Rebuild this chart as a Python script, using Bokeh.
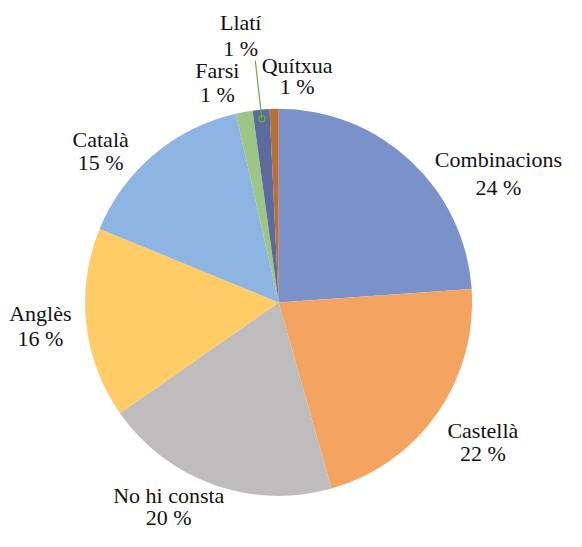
import math
from bokeh.plotting import figure
from bokeh.models import ColumnDataSource
from bokeh.core.properties import value
from bokeh.embed import file_html
from bokeh.resources import INLINE

# ---- data ----
categories = ["Combinacions", "Castellà", "No hi consta", "Anglès", "Català", "Farsi", "Llatí", "Quítxua"]
shares = [23.9, 21.7, 19.7, 15.9, 15.25, 1.4, 1.4, 0.75]
pct_labels = ["24 %", "22 %", "20 %", "16 %", "15 %", "1 %", "1 %", "1 %"]

# ---- styles / layout ----
colors = ["#7A91CA", "#F4A460", "#BEBCBC", "#FFCC66", "#8EB4E3", "#9DC585", "#5B6B9B", "#B8703A"]
R = 199
# label line centres relative to pie centre: (x, y_name, y_pct)
label_layout = [
    (226, 147, 118),
    (210, -132, -156),
    (-113, -199, -222),
    (-245, -11, -37),
    (-183, 168, 144),
    (-63, 239, 214),
    (-39, 288, 262),
    (19, 244, 222),
]
FONT = "Liberation Serif"
FS = "22px"

total = sum(shares)
starts, ends = [], []
cum = 0.0
for s in shares:
    a0 = math.pi / 2 - 2 * math.pi * (cum + s) / total
    a1 = math.pi / 2 - 2 * math.pi * cum / total
    starts.append(a0)
    ends.append(a1)
    cum += s

src = ColumnDataSource(dict(cat=categories, start=starts, end=ends, color=colors,
                            x=[0] * len(shares), y=[0] * len(shares)))

p = figure(width=566, height=531, x_range=(-286, 296), y_range=(-236, 311),
           output_backend="svg", toolbar_location=None, min_border=0)
p.axis.visible = False
p.grid.visible = False
p.outline_line_color = None
p.background_fill_color = "white"

p.wedge(x="x", y="y", radius=R, start_angle="start", end_angle="end",
        fill_color="color", line_color=None, source=src)

# leader line for Llatí
i = categories.index("Llatí")
mid = (starts[i] + ends[i]) / 2
ex, ey = 0.955 * R * math.cos(mid), 0.955 * R * math.sin(mid)
p.line([-24, ex], [249, ey], line_color="#6AAE45", line_width=1.2)
p.scatter([ex], [ey], size=6, marker="circle", fill_color=None, line_color="#6AAE45", line_width=1.2)

lx = [l[0] for l in label_layout]
p.text(x=lx, y=[l[1] for l in label_layout], text=categories, text_align="center",
       text_baseline="middle", text_font=value(FONT), text_font_size=FS, text_color="#111111")
p.text(x=lx, y=[l[2] for l in label_layout], text=pct_labels, text_align="center",
       text_baseline="middle", text_font=value(FONT), text_font_size=FS, text_color="#111111")

open("out.html", "w").write(file_html(p, INLINE))
